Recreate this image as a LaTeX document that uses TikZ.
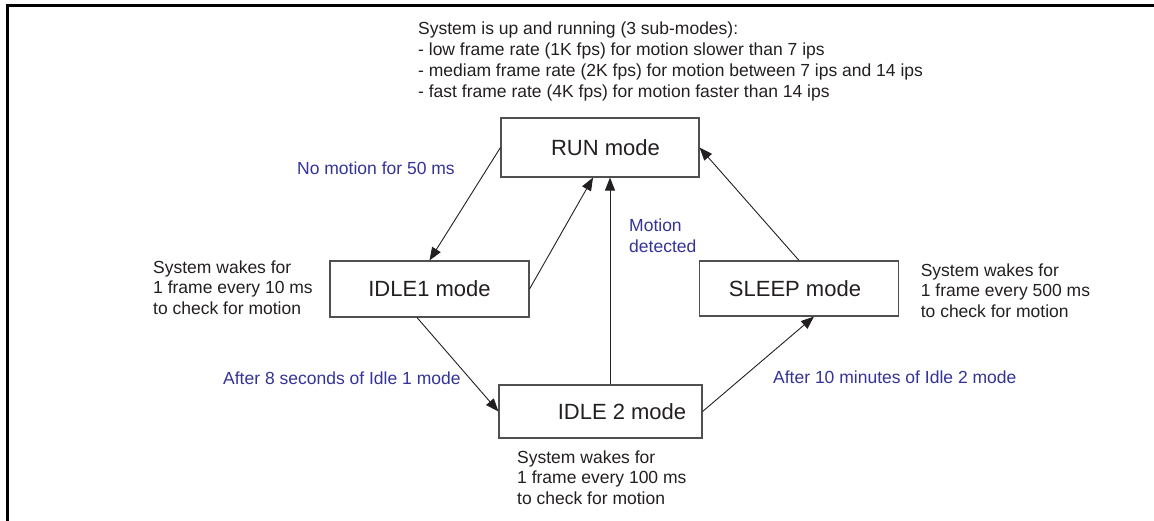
\documentclass[tikz,border=0pt]{standalone}
\usepackage{fontspec}
\setmainfont{Liberation Sans}
\usetikzlibrary{arrows.meta,calc}
\definecolor{lblblue}{RGB}{51,51,153}
\definecolor{ink}{RGB}{35,31,32}
\definecolor{boxline}{RGB}{80,80,80}
\begin{document}
\begin{tikzpicture}[x=1pt,y=-1pt,
  modebox/.style={draw=boxline,line width=1.1pt,inner sep=0pt,fill=white,
    font=\fontsize{22}{26}\selectfont,text=ink},
  note/.style={inner sep=0pt,anchor=north west,align=left,
    font=\fontsize{17.5}{20.5}\selectfont,text=ink},
  trans/.style={note,text=lblblue},
  conn/.style={draw=ink,line width=0.9pt,-{Triangle[length=13pt,width=10pt]}}]
\useasboundingbox (0,0) rectangle (1154,520);
\clip (0,0) rectangle (1154,520);
% outer frame (continues past the right and bottom edges)
\draw[line width=3pt] (7.5,530) -- (7.5,5) -- (1165,5);
% mode boxes
\node[modebox,minimum width=198pt,minimum height=59pt] (run) at (600,147.5) {\hspace*{11pt}RUN mode};
\node[modebox,minimum width=199pt,minimum height=56pt] (idleone) at (429.5,289) {IDLE1 mode};
\node[modebox,minimum width=199pt,minimum height=55pt] (sleep) at (799,288.5) {SLEEP mode\hspace*{8pt}};
\node[modebox,minimum width=203pt,minimum height=53pt] (idletwo) at (600.5,411.5) {\hspace*{43pt}IDLE 2 mode};
% notes
\node[note,font=\fontsize{17.5}{21}\selectfont] (runnote) at (418,21.5) {System is up and running (3 sub-modes):\\- low frame rate (1K fps) for motion slower than 7 ips\\- mediam frame rate (2K fps) for motion between 7 ips and 14 ips\\- fast frame rate (4K fps) for motion faster than 14 ips};
\node[note] (idleonenote) at (153,260.5) {System wakes for\\1 frame every 10 ms\\to check for motion};
\node[note] (sleepnote) at (920.6,263.5) {System wakes for\\1 frame every 500 ms\\to check for motion};
\node[note] (idletwonote) at (517,450.5) {System wakes for\\1 frame every 100 ms\\to check for motion};
% transition labels
\node[trans,font=\fontsize{17.5}{21}\selectfont] (motionlbl) at (629,218.5) {Motion\\detected};
\node[trans] (nomotion) at (297,161.5) {No motion for 50 ms};
\node[trans] (afterone) at (223,371.5) {After 8 seconds of Idle 1 mode};
\node[trans] (aftertwo) at (773,370.5) {After 10 minutes of Idle 2 mode};
% transitions
\draw[conn] (run.west) -- (idleone.north);
\draw[conn] (idleone.east) -- ([xshift=-7pt]run.south);
\draw[conn] ([xshift=9.5pt]idletwo.north) -- ([xshift=9.5pt]idletwo.north |- run.south);
\draw[conn] (sleep.north) -- (run.east);
\draw[conn] ([xshift=-12.5pt]idleone.south) -- (idletwo.west);
\draw[conn] (idletwo.east) -- ([xshift=15pt]sleep.south);
\end{tikzpicture}
\end{document}
